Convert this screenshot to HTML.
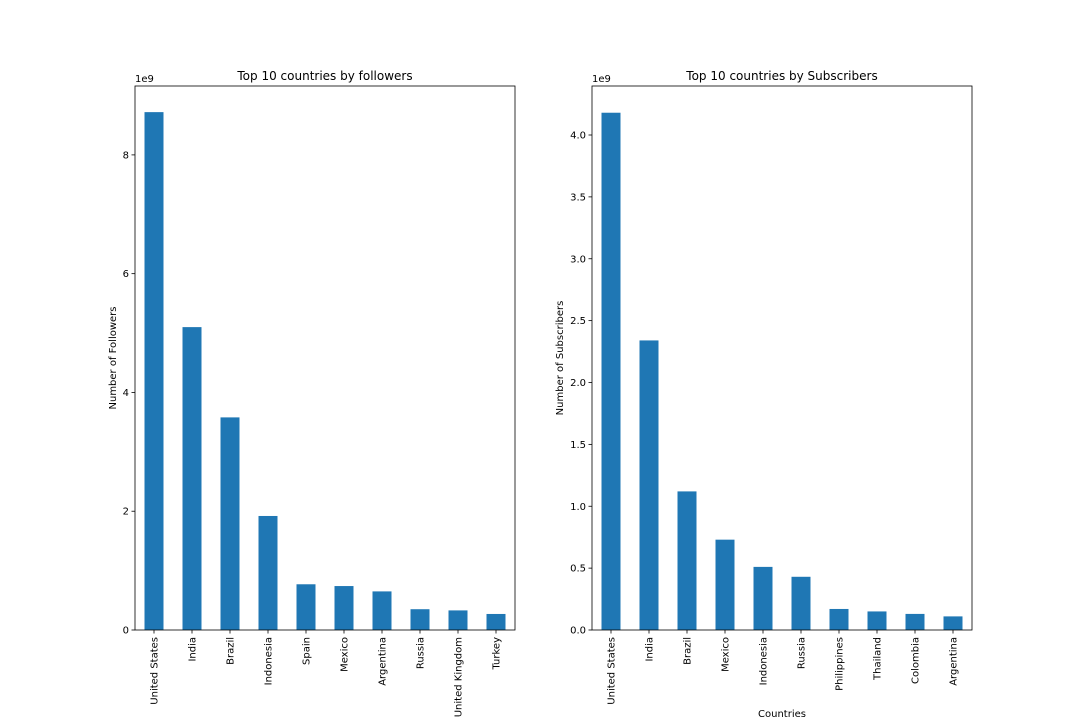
<!DOCTYPE html>
<html><head><meta charset="utf-8"><style>
body{margin:0;background:#fff;}
svg text{font-family:"DejaVu Sans","Liberation Sans",sans-serif;fill:#000;}
</style></head><body>
<svg id="chart" width="1080" height="720" xmlns="http://www.w3.org/2000/svg"></svg>
<script>
const leftCategories=["United States","India","Brazil","Indonesia","Spain","Mexico","Argentina","Russia","United Kingdom","Turkey"];
const leftValues=[8.72,5.10,3.58,1.92,0.77,0.74,0.65,0.35,0.33,0.27];
const leftTicks=[0,2,4,6,8];
const leftTickLabels=["0","2","4","6","8"];
const rightCategories=["United States","India","Brazil","Mexico","Indonesia","Russia","Philippines","Thailand","Colombia","Argentina"];
const rightValues=[4.18,2.34,1.12,0.73,0.51,0.43,0.17,0.15,0.13,0.11];
const rightTicks=[0,0.5,1,1.5,2,2.5,3,3.5,4];
const rightTickLabels=["0.0","0.5","1.0","1.5","2.0","2.5","3.0","3.5","4.0"];
const NS="http://www.w3.org/2000/svg";
const svg=document.getElementById('chart');
function mk(tag,attrs,parent){const e=document.createElementNS(NS,tag);for(const k in attrs)e.setAttribute(k,attrs[k]);(parent||svg).appendChild(e);return e;}
function panel(p){
  const g=mk('g',{});
  
  
  const x0=p.x0,x1=p.x1,y0=86,y1=630;
  const ys=v=>y1-(v/p.ymax)*(y1-y0);
  const step=(x1-x0)/p.cats.length;
  const xs=i=>x0+step*(i+0.5);
  p.vals.forEach((v,i)=>{
    const r=mk('rect',{x:xs(i)-step/4,y:ys(v),width:step/2,height:y1-ys(v),fill:'#1f77b4'},g);
    
    
  });
  const fr=mk('rect',{x:x0,y:y0,width:x1-x0,height:y1-y0,fill:'none',stroke:'#000','stroke-width':0.8},g);
  
  
  p.ticks.forEach((t,i)=>{
    const y=ys(t);
    mk('line',{x1:x0-3.5,x2:x0,y1:y,y2:y,stroke:'#000','stroke-width':0.8},g);
    const tx=mk('text',{x:x0-6,y:y+3.5,'font-size':10,'text-anchor':'end'},g);
    tx.textContent=p.tickLabels[i];
    
    
  });
  p.cats.forEach((c,i)=>{
    const x=xs(i);
    mk('line',{x1:x,x2:x,y1:y1,y2:y1+3.5,stroke:'#000','stroke-width':0.8},g);
    const tx=mk('text',{x:0,y:0,'font-size':10,'text-anchor':'end',transform:`translate(${x+3.5},${y1+7}) rotate(-90)`},g);
    tx.textContent=c;
    
    
  });
  const off=mk('text',{x:x0,y:82,'font-size':10},g);off.textContent='1e9';
  
  
  const ti=mk('text',{x:(x0+x1)/2,y:80,'font-size':12,'text-anchor':'middle'},g);ti.textContent=p.title;
  
  
  const yl=mk('text',{x:0,y:0,'font-size':10,'text-anchor':'middle',transform:`translate(${p.ylx},${(y0+y1)/2}) rotate(-90)`},g);yl.textContent=p.ylabel;
  
  
  if(p.xlabel){const xl=mk('text',{x:(x0+x1)/2,y:717,'font-size':10,'text-anchor':'middle'},g);xl.textContent=p.xlabel;
    
    }
}
panel({name:'followers-panel',x0:135,x1:515,ymax:9.16,cats:leftCategories,vals:leftValues,ticks:leftTicks,tickLabels:leftTickLabels,title:'Top 10 countries by followers',ylabel:'Number of Followers',ylx:116});
panel({name:'subscribers-panel',x0:592,x1:972,ymax:4.396,cats:rightCategories,vals:rightValues,ticks:rightTicks,tickLabels:rightTickLabels,title:'Top 10 countries by Subscribers',ylabel:'Number of Subscribers',ylx:563,xlabel:'Countries'});
</script>
</body></html>
